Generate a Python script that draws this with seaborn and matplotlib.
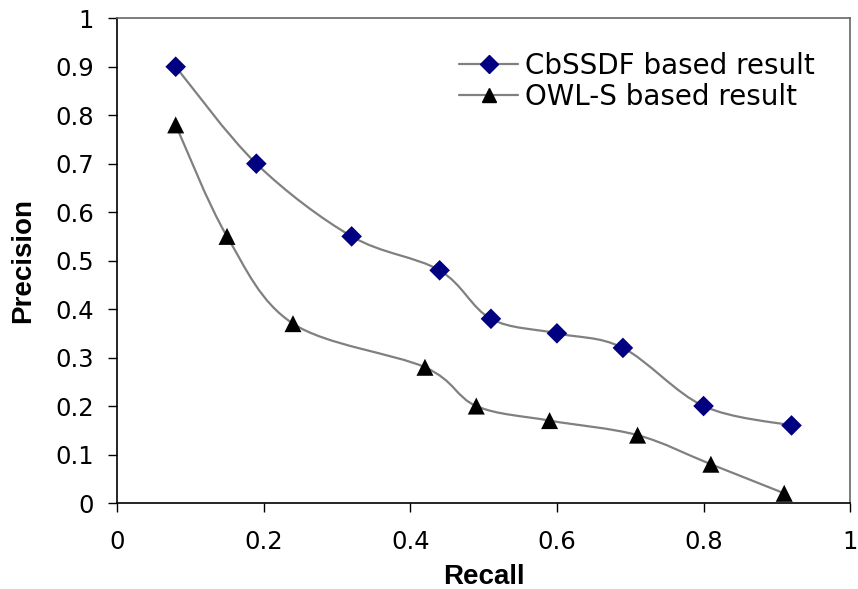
import numpy as np
import pandas as pd
import matplotlib.pyplot as plt
import seaborn as sns
from matplotlib.path import Path
from matplotlib.patches import PathPatch
from matplotlib.lines import Line2D

# valores
recall_cb = [0.08, 0.19, 0.32, 0.44, 0.51, 0.60, 0.69, 0.80, 0.92]
precision_cb = [0.90, 0.70, 0.55, 0.48, 0.38, 0.35, 0.32, 0.20, 0.16]
recall_owl = [0.08, 0.15, 0.24, 0.42, 0.49, 0.59, 0.71, 0.81, 0.91]
precision_owl = [0.78, 0.55, 0.37, 0.28, 0.20, 0.17, 0.14, 0.08, 0.02]
etiquetas = ['CbSSDF based result', 'OWL-S based result']
ticks_x = [0, 0.2, 0.4, 0.6, 0.8, 1]
ticks_y = [0, 0.1, 0.2, 0.3, 0.4, 0.5, 0.6, 0.7, 0.8, 0.9, 1]

df_cb = pd.DataFrame({'recall': recall_cb, 'precision': precision_cb})
df_owl = pd.DataFrame({'recall': recall_owl, 'precision': precision_owl})

sns.set_style('white')
plt.rcParams['font.family'] = ['Liberation Sans', 'DejaVu Sans']
plt.rcParams['text.color'] = 'black'
plt.rcParams['axes.labelcolor'] = 'black'

fig = plt.figure(figsize=(8.58, 5.89), dpi=100)
ax = fig.add_axes([0.1364, 0.146, 0.8545, 0.823])


def curva_suave(x, y):
    # curva suavizada tipo Excel (Bezier, tension 1/6)
    p = np.column_stack([x, y])
    verts = [p[0]]
    codes = [Path.MOVETO]
    n = len(p)
    for i in range(n - 1):
        p0 = p[i - 1] if i > 0 else p[i]
        p3 = p[i + 2] if i + 2 < n else p[i + 1]
        c1 = p[i] + (p[i + 1] - p0) / 6
        c2 = p[i + 1] - (p3 - p[i]) / 6
        verts += [c1, c2, p[i + 1]]
        codes += [Path.CURVE4] * 3
    return Path(verts, codes)


for xs, ys in [(recall_cb, precision_cb), (recall_owl, precision_owl)]:
    ax.add_patch(PathPatch(curva_suave(xs, ys), facecolor='none', edgecolor='#808080', lw=1.6, zorder=2))

sns.scatterplot(data=df_cb, x='recall', y='precision', marker='D', color='#000080',
                s=110, edgecolor='none', ax=ax, zorder=3)
sns.scatterplot(data=df_owl, x='recall', y='precision', marker='^', color='black',
                s=150, edgecolor='none', ax=ax, zorder=3)

ax.set_xlim(0, 1)
ax.set_ylim(0, 1)
ax.set_xticks(ticks_x)
ax.set_xticklabels(['0', '0.2', '0.4', '0.6', '0.8', '1'])
ax.set_yticks(ticks_y)
ax.set_yticklabels(['0', '0.1', '0.2', '0.3', '0.4', '0.5', '0.6', '0.7', '0.8', '0.9', '1'])
ax.tick_params(axis='both', direction='out', length=6.5, width=1, colors='black',
               left=True, bottom=True)
ax.tick_params(axis='y', pad=10)
ax.tick_params(axis='x', pad=13)
for lbl in ax.get_xticklabels() + ax.get_yticklabels():
    lbl.set_fontfamily('DejaVu Sans')
    lbl.set_fontsize(17.5)
for lado in ['left', 'bottom']:
    ax.spines[lado].set_color('black')
    ax.spines[lado].set_linewidth(1.2)
for lado in ['top', 'right']:
    ax.spines[lado].set_color('#666666')
    ax.spines[lado].set_linewidth(1.2)

ax.set_xlabel('Recall', fontsize=20, fontweight='bold', labelpad=7)
ax.set_ylabel('Precision', fontsize=20, fontweight='bold', labelpad=14)

handles = [
    Line2D([], [], color='#808080', lw=1.6, marker='D', markersize=9, markerfacecolor='#000080', markeredgecolor='#000080'),
    Line2D([], [], color='#808080', lw=1.6, marker='^', markersize=10, markerfacecolor='black', markeredgecolor='black'),
]
ax.legend(handles, etiquetas, loc='upper left', bbox_to_anchor=(0.467, 0.93), frameon=False,
          prop={'family': 'DejaVu Sans', 'size': 20}, handlelength=2.1, handletextpad=0.27,
          labelspacing=0.1, borderpad=0, borderaxespad=0)

plt.savefig('out.png', dpi=100)
plt.close()
